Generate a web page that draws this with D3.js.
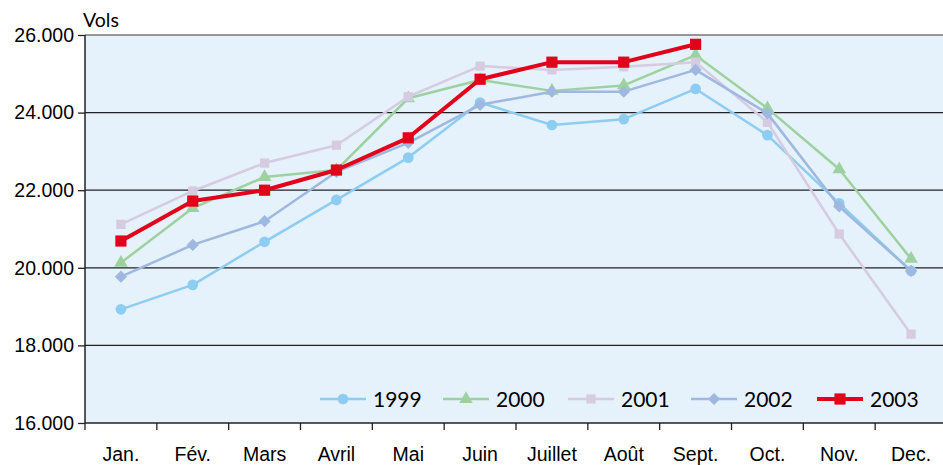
<!DOCTYPE html>
<html>
<head>
<meta charset="utf-8">
<script src="https://cdn.jsdelivr.net/npm/d3@7"></script>
<style>
  body { margin: 0; background: #fff; }
  svg { display: block; font-family: Lato, "Open Sans", sans-serif; }
  .axis path { display: none; }
  .axis text { font-size: 19.5px; fill: #000; }
</style>
</head>
<body>
<svg id="chart" width="943" height="465"></svg>
<script>
const months = ['Jan.', 'Fév.', 'Mars', 'Avril', 'Mai', 'Juin', 'Juillet', 'Août', 'Sept.', 'Oct.', 'Nov.', 'Dec.'];
const yTicks = [16000, 18000, 20000, 22000, 24000, 26000];

const v1999 = [18930, 19560, 20670, 21750, 22840, 24260, 23680, 23830, 24610, 23420, 21660, 19920];
const v2000 = [20130, 21540, 22340, 22520, 24370, 24840, 24560, 24700, 25480, 24110, 22540, 20230];
const v2001 = [21120, 21980, 22700, 23160, 24410, 25200, 25100, 25180, 25300, 23750, 20870, 18290];
const v2002 = [19770, 20590, 21200, 22470, 23220, 24200, 24540, 24540, 25100, 23980, 21580, 19920];
const v2003 = [20690, 21720, 22000, 22520, 23350, 24860, 25300, 25300, 25760];

// diamond = square turned 45 degrees
const series = [
    { name: '1999', values: v1999, color: '#8dcdf2', width: 2.5, symbol: d3.symbolCircle, size: 90, rot: 0 },
    { name: '2000', values: v2000, color: '#9dd2a0', width: 2.5, symbol: d3.symbolTriangle, size: 80, rot: 0 },
    { name: '2001', values: v2001, color: '#d6cbe1', width: 2.5, symbol: d3.symbolSquare, size: 85, rot: 0 },
    { name: '2002', values: v2002, color: '#9fb8df', width: 2.5, symbol: d3.symbolSquare, size: 75, rot: 45 },
    { name: '2003', values: v2003, color: '#e2001a', width: 4, symbol: d3.symbolSquare, size: 125, rot: 0 }
];

const margin = { top: 35, left: 85, bottom: 42 };
const W = 943, H = 465;
const plotRight = 947;
const height = H - margin.top - margin.bottom;

const svg = d3.select('#chart');

const x = d3.scaleBand().domain(months).range([margin.left, plotRight]).padding(0);
const cx = d => x(d) + x.bandwidth() / 2;
const y = d3.scaleLinear().domain([16000, 26000]).range([margin.top + height, margin.top]);

// plot background
svg.append('rect')
    .attr('x', margin.left).attr('y', y(26000))
    .attr('width', plotRight - margin.left).attr('height', y(16000) - y(26000))
    .attr('fill', '#e5f1fb');

// horizontal grid
svg.append('g')
    .selectAll('line')
    .data(yTicks)
    .enter().append('line')
    .attr('x1', margin.left).attr('x2', plotRight)
    .attr('y1', d => y(d)).attr('y2', d => y(d))
    .attr('stroke', d => d === 26000 ? '#777' : '#222')
    .attr('stroke-width', 1.3);

// y axis
const fmt = d => d3.format(',')(d).replace(',', '.');
svg.append('g')
    .attr('class', 'axis')
    .attr('transform', `translate(${margin.left}, 0)`)
    .call(d3.axisLeft(y).tickValues(yTicks).tickFormat(fmt).tickSize(7).tickPadding(4))
    .call(g => g.selectAll('.tick line').attr('stroke', '#222').attr('stroke-width', 1.3));

svg.append('line')
    .attr('x1', margin.left).attr('x2', margin.left)
    .attr('y1', y(26000)).attr('y2', y(16000))
    .attr('stroke', '#222').attr('stroke-width', 1.5);

// x axis labels
svg.append('g')
    .attr('class', 'axis')
    .attr('transform', `translate(0, ${y(16000)})`)
    .call(d3.axisBottom(x).tickSize(0).tickPadding(24));

// x boundary ticks
svg.append('g')
    .selectAll('line')
    .data(months)
    .enter().append('line')
    .attr('x1', d => x(d)).attr('x2', d => x(d))
    .attr('y1', y(16000)).attr('y2', y(16000) + 7)
    .attr('stroke', '#222').attr('stroke-width', 1.3);

svg.append('text')
    .attr('x', margin.left - 2).attr('y', 27)
    .attr('font-size', 19.5)
    .text('Vols');

// series
const line = d3.line()
    .x((d, i) => cx(months[i]))
    .y(d => y(d));

series.forEach(s => {
    const g = svg.append('g');
    g.append('path')
        .datum(s.values)
        .attr('d', line)
        .attr('fill', 'none')
        .attr('stroke', s.color)
        .attr('stroke-width', s.width)
        .attr('stroke-linejoin', 'round');
    g.selectAll('path.pt')
        .data(s.values)
        .enter().append('path')
        .attr('class', 'pt')
        .attr('d', d3.symbol().type(s.symbol).size(s.size))
        .attr('transform', (d, i) => `translate(${cx(months[i])}, ${y(d)}) rotate(${s.rot})`)
        .attr('fill', s.color);
});

// legend
const legendX = [320, 443, 568, 691, 817];
const legendY = 399;
const lg = svg.append('g');
series.forEach((s, i) => {
    const g = lg.append('g').attr('transform', `translate(${legendX[i]}, ${legendY})`);
    g.append('line')
        .attr('x1', 0).attr('x2', 46)
        .attr('stroke', s.color).attr('stroke-width', s.width);
    g.append('path')
        .attr('d', d3.symbol().type(s.symbol).size(s.size))
        .attr('transform', `translate(23, 0) rotate(${s.rot})`)
        .attr('fill', s.color);
    g.append('text')
        .attr('x', 53).attr('y', 8)
        .attr('font-size', 21)
        .text(s.name);
});
</script>
</body>
</html>
